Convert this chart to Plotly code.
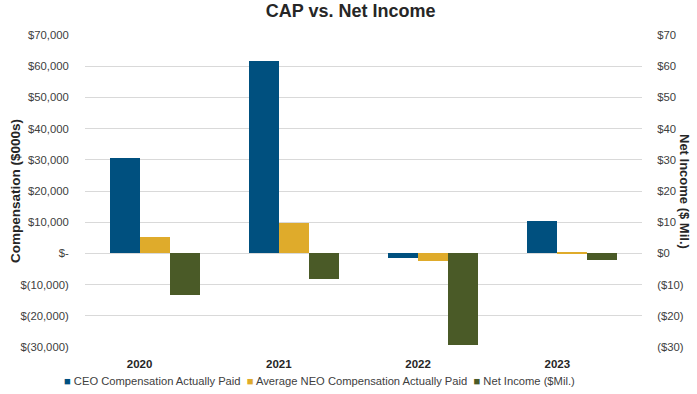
import plotly.graph_objects as go

years = ["2020", "2021", "2022", "2023"]
ceo_cap = [30500, 61700, -1600, 10400]
neo_cap = [5400, 9800, -2300, 500]
net_income = [-13.2, -8.2, -29.2, -2.1]

series_names = ["CEO Compensation Actually Paid", "Average NEO Compensation Actually Paid",
                "Net Income ($Mil.)"]
series_colors = ["#00507f", "#dfab2b", "#4a5a27"]

left_vals = [70000, 60000, 50000, 40000, 30000, 20000, 10000, 0, -10000, -20000, -30000]
left_text = ["$70,000", "$60,000", "$50,000", "$40,000", "$30,000", "$20,000", "$10,000",
             "$-", "$(10,000)", "$(20,000)", "$(30,000)"]
right_vals = [70, 60, 50, 40, 30, 20, 10, 0, -10, -20, -30]
right_text = ["$70", "$60", "$50", "$40", "$30", "$20", "$10", "$0", "($10)", "($20)", "($30)"]

W = 0.215
font_family = "Liberation Sans, Arial, sans-serif"

fig = go.Figure()
fig.add_trace(go.Bar(x=years, y=ceo_cap, name=series_names[0],
                     marker=dict(color=series_colors[0], line=dict(width=0)),
                     width=W, offset=-1.5 * W, yaxis="y"))
fig.add_trace(go.Bar(x=years, y=neo_cap, name=series_names[1],
                     marker=dict(color=series_colors[1], line=dict(width=0)),
                     width=W, offset=-0.5 * W, yaxis="y"))
fig.add_trace(go.Bar(x=years, y=net_income, name=series_names[2],
                     marker=dict(color=series_colors[2], line=dict(width=0)),
                     width=W, offset=0.5 * W, yaxis="y2"))

fig.update_layout(
    width=697, height=394,
    margin=dict(l=85, r=55, t=35, b=47),
    paper_bgcolor="white", plot_bgcolor="white",
    font=dict(family=font_family, size=11.3, color="#404040"),
    barmode="overlay",
    showlegend=False,
    title=dict(text="<b>CAP vs. Net Income</b>", x=0.503, xanchor="center",
               y=0.972, yanchor="middle", font=dict(size=18, color="#262626")),
    xaxis=dict(type="category", showgrid=False, showline=False, ticks="",
               automargin=False,
               tickfont=dict(size=11.5, color="#262626", weight="bold"),
               ticklabelshift=-15, ticklabelstandoff=8),
    yaxis=dict(range=[-30000, 70000], tickvals=left_vals, ticktext=left_text,
               automargin=False,
               showgrid=True, gridcolor="#d9d9d9", gridwidth=1,
               zeroline=True, zerolinecolor="#d9d9d9", zerolinewidth=1,
               showline=False, ticks="outside", ticklen=13, tickcolor="rgba(0,0,0,0)",
               tickfont=dict(size=11.3, color="#404040")),
    yaxis2=dict(range=[-30, 70], tickvals=right_vals, ticktext=right_text,
                automargin=False,
                overlaying="y", side="right", showgrid=False, zeroline=False,
                showline=False, ticks="outside", ticklen=12, tickcolor="rgba(0,0,0,0)",
                tickfont=dict(size=11.3, color="#404040")),
    bargap=0,
)

# axis titles
fig.add_annotation(text="<b>Compensation ($000s)</b>", xref="paper", yref="paper",
                   x=0, xshift=-70, y=0.5, textangle=-90, showarrow=False,
                   font=dict(size=13.5, color="#262626"), xanchor="center", yanchor="middle")
fig.add_annotation(text="<b>Net Income ($ Mil.)</b>", xref="paper", yref="paper",
                   x=1.0, xshift=43, y=0.5, textangle=90, showarrow=False,
                   font=dict(size=13, color="#262626"), xanchor="center", yanchor="middle")

# legend row
legend_html = "  ".join(
    f'<span style="color:{c}">■</span> {n}' for n, c in zip(series_names, series_colors)
)
fig.add_annotation(text=legend_html, xref="paper", yref="paper",
                   x=-0.041, xanchor="left", y=0, yshift=-34, yanchor="middle",
                   showarrow=False, font=dict(size=11.2, color="#404040"))

fig.write_html("out.html", config={"displayModeBar": False},
               post_script="document.body.style.margin='0';")
